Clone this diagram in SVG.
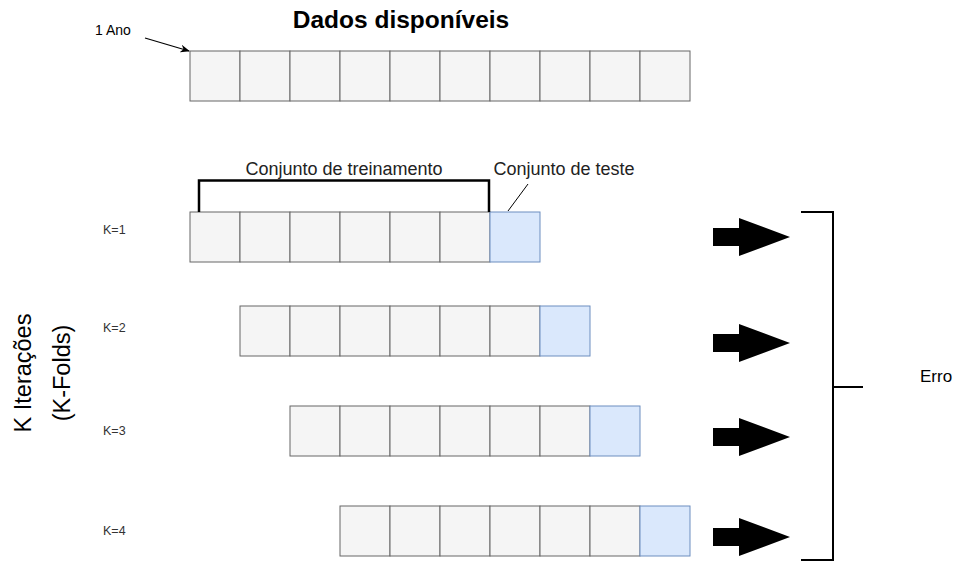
<svg xmlns="http://www.w3.org/2000/svg" width="956" height="562" viewBox="0 0 956 562">
<defs>
<style>
.c{fill:#f5f5f5;stroke:#666666;stroke-width:1}
.t{fill:#dae8fc;stroke:#6c8ebf;stroke-width:1}
text{font-family:"Liberation Sans",Arial,sans-serif;fill:#000}
.k{font-size:12.5px;fill:#333}
.lbl{font-size:18px;fill:#222}
.big{font-size:23.5px}
.blk{fill:#000}
</style>
<marker id="ah" viewBox="0 0 10 10" refX="9" refY="5" markerWidth="8" markerHeight="8" orient="auto"><path d="M0,1 L10,5 L0,9 L3,5 Z" fill="#000"/></marker>
<polygon id="bigarrow" points="0,-9 26,-9 26,-19 77,0 26,19 26,9 0,9"/>
</defs>
<rect width="956" height="562" fill="#fff"/>
<g id="title"><text x="401" y="28" text-anchor="middle" font-size="24.5" font-weight="bold">Dados disponíveis</text></g>
<g id="ano"><text x="95" y="35" font-size="14" fill="#333">1 Ano</text></g>
<g id="all-data">
<rect class="c" x="190" y="51" width="50" height="50"/><rect class="c" x="240" y="51" width="50" height="50"/><rect class="c" x="290" y="51" width="50" height="50"/><rect class="c" x="340" y="51" width="50" height="50"/><rect class="c" x="390" y="51" width="50" height="50"/><rect class="c" x="440" y="51" width="50" height="50"/><rect class="c" x="490" y="51" width="50" height="50"/><rect class="c" x="540" y="51" width="50" height="50"/><rect class="c" x="590" y="51" width="50" height="50"/><rect class="c" x="640" y="51" width="50" height="50"/>
</g>
<g id="labels">
<text class="lbl" x="344" y="175" text-anchor="middle">Conjunto de treinamento</text>
<text class="lbl" x="564" y="175" text-anchor="middle">Conjunto de teste</text>
</g>
<g id="fold1">
<rect class="c" x="190" y="212" width="50" height="50"/><rect class="c" x="240" y="212" width="50" height="50"/><rect class="c" x="290" y="212" width="50" height="50"/><rect class="c" x="340" y="212" width="50" height="50"/><rect class="c" x="390" y="212" width="50" height="50"/><rect class="c" x="440" y="212" width="50" height="50"/><rect class="t" x="490" y="212" width="50" height="50"/>
</g>
<g id="fold2">
<rect class="c" x="240" y="306" width="50" height="50"/><rect class="c" x="290" y="306" width="50" height="50"/><rect class="c" x="340" y="306" width="50" height="50"/><rect class="c" x="390" y="306" width="50" height="50"/><rect class="c" x="440" y="306" width="50" height="50"/><rect class="c" x="490" y="306" width="50" height="50"/><rect class="t" x="540" y="306" width="50" height="50"/>
</g>
<g id="fold3">
<rect class="c" x="290" y="406" width="50" height="50"/><rect class="c" x="340" y="406" width="50" height="50"/><rect class="c" x="390" y="406" width="50" height="50"/><rect class="c" x="440" y="406" width="50" height="50"/><rect class="c" x="490" y="406" width="50" height="50"/><rect class="c" x="540" y="406" width="50" height="50"/><rect class="t" x="590" y="406" width="50" height="50"/>
</g>
<g id="fold4">
<rect class="c" x="340" y="506" width="50" height="50"/><rect class="c" x="390" y="506" width="50" height="50"/><rect class="c" x="440" y="506" width="50" height="50"/><rect class="c" x="490" y="506" width="50" height="50"/><rect class="c" x="540" y="506" width="50" height="50"/><rect class="c" x="590" y="506" width="50" height="50"/><rect class="t" x="640" y="506" width="50" height="50"/>
</g>
<g id="k-labels">
<text class="k" x="103" y="234">K=1</text>
<text class="k" x="103" y="332">K=2</text>
<text class="k" x="103" y="435">K=3</text>
<text class="k" x="103" y="535">K=4</text>
</g>
<g id="axis-label">
<text class="big" transform="translate(31,373) rotate(-90)" text-anchor="middle">K Iterações</text>
<text class="big" transform="translate(70,373) rotate(-90)" text-anchor="middle">(K-Folds)</text>
</g>
<g id="erro"><text x="920" y="382" font-size="17" fill="#222">Erro</text></g>
<g id="connectors">
<line x1="145" y1="38" x2="189" y2="51" stroke="#000" stroke-width="1.2" marker-end="url(#ah)"/>
<path d="M199,212 V180.5 H489 V212" fill="none" stroke="#000" stroke-width="2.5"/>
<line x1="508" y1="211" x2="528" y2="184" stroke="#000" stroke-width="1"/>
<use href="#bigarrow" x="713" y="237" class="blk"/>
<use href="#bigarrow" x="713" y="343" class="blk"/>
<use href="#bigarrow" x="713" y="437" class="blk"/>
<use href="#bigarrow" x="713" y="537" class="blk"/>
<path d="M801,212 H833 V560 H801 M833,387 H863" fill="none" stroke="#000" stroke-width="2"/>
</g>
</svg>
